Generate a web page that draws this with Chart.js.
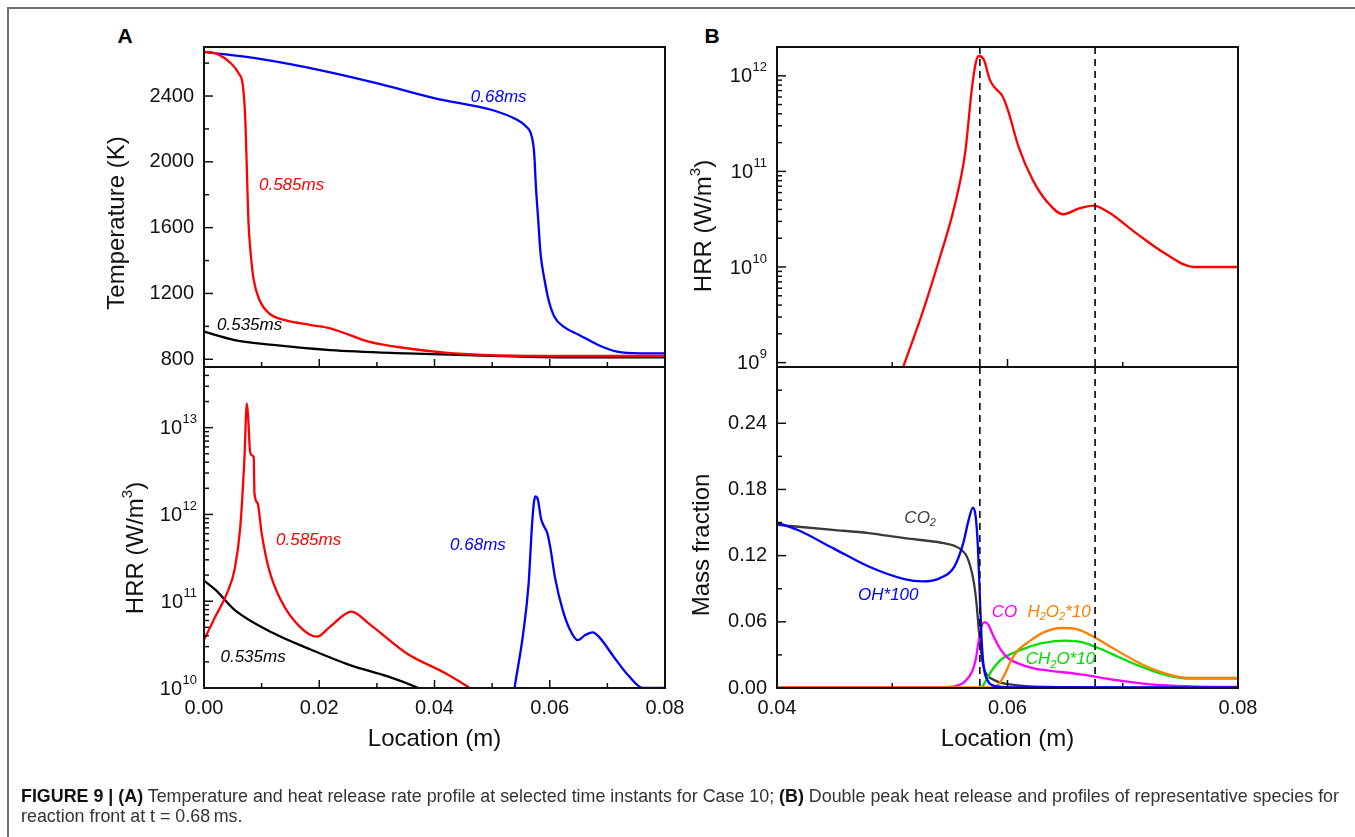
<!DOCTYPE html>
<html>
<head>
<meta charset="utf-8">
<script src="https://cdn.jsdelivr.net/npm/chart.js@4.4.1/dist/chart.umd.min.js"></script>
<style>
html,body{margin:0;padding:0;background:#fff;}
#wrap{position:relative;width:1355px;height:837px;overflow:hidden;background:#fff;}
canvas{position:absolute;left:0;top:0;}
#frame{position:absolute;left:7px;top:7px;width:1400px;height:900px;border-top:2px solid #6e6e6e;border-left:2px solid #6e6e6e;}
.plabel{position:absolute;width:24px;text-align:center;font:bold 21px "Liberation Sans",Arial,sans-serif;color:#000;line-height:24px;}
#caption{position:absolute;left:21px;top:786px;font-family:"Liberation Sans",Arial,sans-serif;font-size:17px;color:#333;white-space:nowrap;line-height:20px;}
#caption b{color:#111;}
</style>
</head>
<body>
<div id="wrap">
  <div id="frame"></div>
  <div class="plabel" style="left:113px;top:24px;">A</div>
  <div class="plabel" style="left:700px;top:24px;">B</div>
  <canvas id="cAT" width="1355" height="837"></canvas>
  <canvas id="cAB" width="1355" height="837"></canvas>
  <canvas id="cBT" width="1355" height="837"></canvas>
  <canvas id="cBB" width="1355" height="837"></canvas>
  <div id="caption"><div id="cap1" style="display:inline-block"><b>FIGURE 9 | (A)</b> Temperature and heat release rate profile at selected time instants for Case 10; <b>(B)</b> Double peak heat release and profiles of representative species for</div><div>reaction front at t = 0.68&#8201;ms.</div></div>
</div>
<script>
// ---------------- DATA ----------------
// axis ticks
const XA_TICKS = [0, 0.02, 0.04, 0.06, 0.08];
const XA_MINOR = [0.01, 0.03, 0.05, 0.07];
const XB_TICKS = [0.04, 0.06, 0.08];
const XB_MINOR = [0.05, 0.07];
const TEMP_TICKS = [800, 1200, 1600, 2000, 2400];
const TEMP_MINOR = [1000, 1400, 1800, 2200, 2600];
const HRR_A_DECADES = [1e10, 1e11, 1e12, 1e13];
const HRR_B_DECADES = [1e9, 1e10, 1e11, 1e12];
const MF_TICKS = [0, 0.06, 0.12, 0.18, 0.24];
const MF_MINOR = [0.03, 0.09, 0.15, 0.21, 0.27];
const DASH_X = [0.0576, 0.0676];

// Panel A top: temperature (K)
const T068_X = [0, 0.0102, 0.0201, 0.0301, 0.0401, 0.05, 0.0544, 0.0558, 0.0568, 0.0573, 0.0576, 0.058, 0.0584, 0.0591, 0.0598, 0.0608, 0.0624, 0.0651, 0.0684, 0.0717, 0.0757, 0.08];
const T068_Y = [2669, 2623, 2558, 2477, 2386, 2315, 2254, 2218, 2163, 2052, 1849, 1646, 1444, 1282, 1160, 1059, 998, 948, 887, 846, 836, 836];
const T0585_X = [0, 0.002, 0.00465, 0.006, 0.00677, 0.00717, 0.00744, 0.0077, 0.0081, 0.00863, 0.00963, 0.01129, 0.01394, 0.01859, 0.0219, 0.02523, 0.02855, 0.03519, 0.04183, 0.04847, 0.05975, 0.08];
const T0585_Y = [2669, 2659, 2599, 2538, 2457, 2254, 1950, 1646, 1444, 1282, 1160, 1079, 1039, 1008, 988, 948, 907, 867, 840, 826, 820, 820];
const T0535_X = [0, 0.00531, 0.01195, 0.0219, 0.0352, 0.0485, 0.0617, 0.08];
const T0535_Y = [968, 917, 887, 856, 836, 822, 812, 812];

// Panel A bottom: HRR (W/m3)
const H0585_X = [0, 0.002, 0.004, 0.0053, 0.0063, 0.007, 0.00744, 0.0077, 0.00797, 0.0083, 0.00863, 0.00876, 0.0093, 0.01, 0.0113, 0.0133, 0.0166, 0.0196, 0.0219, 0.0256, 0.0285, 0.0352, 0.0418, 0.0461, 0.0475];
const H0585_Y = [3.6e10, 6.7e10, 1.24e11, 2.3e11, 7.2e11, 4.2e12, 1.9e13, 1.2e13, 5.5e12, 4.8e12, 4.6e12, 1.75e12, 1.35e12, 6.1e11, 2.3e11, 1.04e11, 5.1e10, 3.9e10, 5.1e10, 7.6e10, 5.6e10, 2.5e10, 1.49e10, 1.0e10, 8.5e9];
const H0535_X = [0, 0.002, 0.0053, 0.012, 0.0186, 0.0252, 0.0319, 0.0372, 0.039];
const H0535_Y = [1.73e11, 1.35e11, 7.96e10, 4.3e10, 2.76e10, 1.85e10, 1.36e10, 1.0e10, 8.8e9];
// HRR at 0.68 ms (panel A bottom blue and panel B top red)
const H068_X = [0.0505, 0.05096, 0.0526, 0.05415, 0.05539, 0.05632, 0.05693, 0.05724, 0.05749, 0.05793, 0.05848, 0.05895, 0.05957, 0.06003, 0.06096, 0.0622, 0.06344, 0.06483, 0.06622, 0.06746, 0.0687, 0.07118, 0.07365, 0.07613, 0.08];
const H068_Y = [6.3e8, 9.06e8, 3.27e9, 1.28e10, 4.27e10, 1.55e11, 7.7e11, 1.35e12, 1.61e12, 1.49e12, 9.0e11, 7.4e11, 6.1e11, 4.4e11, 1.81e11, 8.1e10, 4.8e10, 3.56e10, 4.1e10, 4.38e10, 3.78e10, 2.25e10, 1.39e10, 1.0e10, 1.0e10];

// Panel B bottom: mass fractions
const CO2_X = [0.04, 0.04486, 0.04796, 0.05105, 0.05415, 0.05539, 0.05601, 0.05647, 0.05678, 0.05709, 0.05731, 0.05746, 0.05762, 0.0578, 0.05805, 0.05879, 0.06034, 0.06344, 0.08];
const CO2_Y = [0.1479, 0.1434, 0.1404, 0.1358, 0.1319, 0.1289, 0.1253, 0.1192, 0.1101, 0.0951, 0.077, 0.0589, 0.0408, 0.0256, 0.0151, 0.0075, 0.003, 0.0009, 0.0];
const OH_X = [0.04, 0.04176, 0.04486, 0.04796, 0.05105, 0.0526, 0.05415, 0.05539, 0.05616, 0.05663, 0.057, 0.05724, 0.05743, 0.05759, 0.05774, 0.05793, 0.05824, 0.05879, 0.06034, 0.08];
const OH_Y = [0.150, 0.1434, 0.1268, 0.1101, 0.0987, 0.0966, 0.0996, 0.1101, 0.1313, 0.1524, 0.1636, 0.1554, 0.1282, 0.086, 0.0467, 0.0196, 0.0075, 0.0021, 0.0005, 0.0005];
const CO_X = [0.04, 0.05415, 0.05539, 0.05632, 0.05693, 0.05724, 0.05749, 0.0577, 0.05802, 0.05833, 0.05879, 0.05941, 0.06003, 0.06096, 0.0622, 0.06344, 0.06653, 0.06963, 0.07272, 0.07582, 0.08];
const CO_Y = [0.0005, 0.0005, 0.0015, 0.006, 0.015, 0.0256, 0.0423, 0.0544, 0.0598, 0.0574, 0.0468, 0.0347, 0.0272, 0.0221, 0.0181, 0.016, 0.0121, 0.0069, 0.003, 0.0015, 0.0009];
const H2O2_X = [0.04, 0.05848, 0.05895, 0.05941, 0.05988, 0.06034, 0.06096, 0.06189, 0.06313, 0.06467, 0.06591, 0.06715, 0.06839, 0.06963, 0.07118, 0.07272, 0.07427, 0.07582, 0.08];
const H2O2_Y = [0.0005, 0.0005, 0.0009, 0.006, 0.015, 0.0256, 0.0347, 0.0423, 0.0504, 0.0544, 0.0535, 0.0483, 0.0408, 0.0332, 0.0241, 0.0166, 0.0115, 0.0091, 0.0091];
const CH2O_X = [0.05771, 0.05793, 0.05833, 0.05879, 0.05941, 0.06034, 0.06158, 0.06313, 0.06498, 0.06653, 0.06808, 0.06963, 0.07118, 0.07272, 0.07427, 0.07582, 0.08];
const CH2O_Y = [0, 0.003, 0.0106, 0.0181, 0.0256, 0.031, 0.0362, 0.0408, 0.0429, 0.0414, 0.0353, 0.0281, 0.0211, 0.0151, 0.0106, 0.0085, 0.0085];

// ---------------- DRAWING ----------------
const W = 1355, H = 837;
const FONT = '"Liberation Sans", Arial, Helvetica, sans-serif';
const DECOR = {};

function pts(xs, ys) { return xs.map((x, i) => ({x: x, y: ys[i]})); }
function series(label, xs, ys, color) {
  return {label: label, data: pts(xs, ys), borderColor: color, backgroundColor: color,
          borderWidth: 2.3, pointRadius: 0, fill: false, cubicInterpolationMode: 'monotone'};
}
function logMinors(lo, hi) {
  const out = [];
  for (let e = Math.floor(Math.log10(lo)); e <= Math.ceil(Math.log10(hi)); e++) {
    for (let m = 2; m <= 9; m++) { const v = m * Math.pow(10, e); if (v > lo * 1.0001 && v < hi * 0.9999) out.push(v); }
  }
  return out;
}

function drawRich(ctx, segs, x, y, size, style, color, align) {
  const small = Math.round(size * 0.62);
  let total = 0;
  const widths = segs.map(s => {
    ctx.font = `${style} ${(s.sub || s.sup) ? small : size}px ${FONT}`;
    const w = ctx.measureText(s.t).width; total += w; return w;
  });
  let cx = align === 'center' ? x - total / 2 : x;
  ctx.fillStyle = color; ctx.textAlign = 'left'; ctx.textBaseline = 'middle';
  segs.forEach((s, i) => {
    ctx.font = `${style} ${(s.sub || s.sup) ? small : size}px ${FONT}`;
    const dy = s.sup ? -size * 0.36 : (s.sub ? size * 0.3 : 0);
    ctx.fillText(s.t, cx, y + dy);
    cx += widths[i];
  });
}

const decor = {
  id: 'decor',
  afterDatasetsDraw(chart) {
    const o = DECOR[chart.canvas.id];
    if (!o) return;
    const ctx = chart.ctx, a = chart.chartArea;
    const xs = chart.scales.x, ys = chart.scales.y;
    const seg = (x1, y1, x2, y2) => { ctx.beginPath(); ctx.moveTo(x1, y1); ctx.lineTo(x2, y2); ctx.stroke(); };
    ctx.save();
    ctx.strokeStyle = '#111';
    if (o.dash) {
      ctx.setLineDash([7, 5]); ctx.lineWidth = 1.7;
      o.dash.forEach(v => { const p = xs.getPixelForValue(v); seg(p, a.top, p, a.bottom); });
      ctx.setLineDash([]);
    }
    ctx.lineWidth = 1.5;
    o.xMajor.forEach(v => { const p = xs.getPixelForValue(v); seg(p, a.bottom, p, a.bottom - 8); });
    o.xMinor.forEach(v => { const p = xs.getPixelForValue(v); seg(p, a.bottom, p, a.bottom - 5); });
    o.yMajor.forEach(v => { const p = ys.getPixelForValue(v); seg(a.left, p, a.left + 9, p); });
    o.yMinor.forEach(v => { const p = ys.getPixelForValue(v); seg(a.left, p, a.left + 5, p); });
    ctx.lineWidth = 2;
    ctx.strokeRect(a.left, a.top, a.right - a.left, a.bottom - a.top);
    // log tick labels: 10^n
    if (o.logLabels) {
      o.logLabels.forEach(v => {
        const p = ys.getPixelForValue(v);
        const ex = String(Math.round(Math.log10(v)));
        const right = a.left - o.logRight;
        ctx.fillStyle = '#111'; ctx.textBaseline = 'middle';
        ctx.font = `13px ${FONT}`; const ew = ctx.measureText(ex).width;
        ctx.textAlign = 'left'; ctx.fillText(ex, right - ew, p - 8);
        ctx.font = `20px ${FONT}`; ctx.textAlign = 'right'; ctx.fillText('10', right - ew - 0.5, p + 1);
      });
    }
    // rotated y title
    if (o.title) {
      ctx.save(); ctx.translate(o.title.x, o.title.y); ctx.rotate(-Math.PI / 2);
      drawRich(ctx, o.title.segs, 0, 0, 24, '', '#111', 'center');
      ctx.restore();
    }
    // curve labels
    (o.notes || []).forEach(n => {
      drawRich(ctx, n.segs, xs.getPixelForValue(n.x), ys.getPixelForValue(n.y), 17, 'italic', n.color, 'left');
    });
    ctx.restore();
  }
};

function makePanel(id, o) {
  DECOR[id] = o;
  return new Chart(document.getElementById(id), {
    type: 'line',
    data: {datasets: o.datasets},
    options: {
      responsive: false, animation: false, devicePixelRatio: 1,
      layout: {padding: {left: o.area.l - o.yW, right: W - o.area.r, top: o.area.t, bottom: H - o.area.b - o.xH}},
      plugins: {legend: {display: false}, tooltip: {enabled: false}},
      scales: {
        x: {
          type: 'linear', min: o.xMin, max: o.xMax, bounds: 'data',
          grid: {display: false, drawTicks: false}, border: {display: false},
          ticks: {display: o.xLabels, padding: 8, color: '#111', font: {family: FONT, size: 20}, maxRotation: 0,
                  callback: v => Number(v).toFixed(2)},
          title: {display: !!o.xTitle, text: o.xTitle || '', color: '#111', font: {family: FONT, size: 24}, padding: 0},
          afterBuildTicks: s => { s.ticks = o.xTicks.map(v => ({value: v})); },
          afterFit: s => { s.height = o.xH; s.paddingLeft = 0; s.paddingRight = 0; }
        },
        y: {
          type: o.yType, min: o.yMin, max: o.yMax, bounds: 'data',
          grid: {display: false, drawTicks: false}, border: {display: false},
          ticks: {display: o.yLabels, padding: 10, color: '#111', font: {family: FONT, size: 20},
                  callback: v => o.yFmt(Number(v))},
          afterBuildTicks: s => { s.ticks = o.yTicks.map(v => ({value: v})); },
          afterFit: s => { s.width = o.yW; s.paddingTop = 0; s.paddingBottom = 0; }
        }
      }
    },
    plugins: [decor]
  });
}

const RED = '#ff0000', BLUE = '#0000ff', BLACK = '#000000';

makePanel('cAT', {
  area: {l: 204, r: 665, t: 47, b: 367}, yW: 80, xH: 0,
  xMin: 0, xMax: 0.08, xLabels: false, xTicks: XA_TICKS,
  yType: 'linear', yMin: 753, yMax: 2698, yLabels: true, yTicks: TEMP_TICKS, yFmt: v => String(v),
  xMajor: XA_TICKS.slice(1, -1), xMinor: XA_MINOR, yMajor: TEMP_TICKS, yMinor: TEMP_MINOR,
  title: {segs: [{t: 'Temperature (K)'}], x: 117, y: 223},
  notes: [
    {segs: [{t: '0.68ms'}], x: 0.0463, y: 2395, color: BLUE},
    {segs: [{t: '0.585ms'}], x: 0.00954, y: 1859, color: RED},
    {segs: [{t: '0.535ms'}], x: 0.00226, y: 1008, color: BLACK}
  ],
  datasets: [
    series('0.585ms', T0585_X, T0585_Y, RED),
    series('0.68ms', T068_X, T068_Y, BLUE),
    series('0.535ms', T0535_X, T0535_Y, BLACK)
  ]
});

makePanel('cAB', {
  area: {l: 204, r: 665, t: 367, b: 688}, yW: 80, xH: 66,
  xMin: 0, xMax: 0.08, xLabels: true, xTicks: XA_TICKS, xTitle: 'Location (m)',
  yType: 'logarithmic', yMin: 1e10, yMax: 5e13, yLabels: false, yTicks: HRR_A_DECADES, yFmt: v => String(v),
  xMajor: XA_TICKS.slice(1, -1), xMinor: XA_MINOR, yMajor: HRR_A_DECADES.slice(1), yMinor: logMinors(1e10, 5e13),
  logLabels: HRR_A_DECADES, logRight: 7,
  title: {segs: [{t: 'HRR (W/m'}, {t: '3', sup: true}, {t: ')'}], x: 136, y: 548},
  notes: [
    {segs: [{t: '0.585ms'}], x: 0.0125, y: 5.1e11, color: RED},
    {segs: [{t: '0.68ms'}], x: 0.0427, y: 4.46e11, color: BLUE},
    {segs: [{t: '0.535ms'}], x: 0.00286, y: 2.29e10, color: BLACK}
  ],
  datasets: [
    series('0.585ms', H0585_X, H0585_Y, RED),
    series('0.68ms', H068_X, H068_Y, BLUE),
    series('0.535ms', H0535_X, H0535_Y, BLACK)
  ]
});

makePanel('cBT', {
  area: {l: 777, r: 1238, t: 47, b: 367}, yW: 80, xH: 0,
  xMin: 0.04, xMax: 0.08, xLabels: false, xTicks: XB_TICKS,
  yType: 'logarithmic', yMin: 9e8, yMax: 2e12, yLabels: false, yTicks: HRR_B_DECADES, yFmt: v => String(v),
  xMajor: XB_TICKS.slice(1, -1), xMinor: XB_MINOR, yMajor: HRR_B_DECADES, yMinor: logMinors(9e8, 2e12),
  logLabels: HRR_B_DECADES, logRight: 10, dash: DASH_X,
  title: {segs: [{t: 'HRR (W/m'}, {t: '3', sup: true}, {t: ')'}], x: 704, y: 226},
  notes: [],
  datasets: [series('HRR 0.68ms', H068_X, H068_Y, RED)]
});

makePanel('cBB', {
  area: {l: 777, r: 1238, t: 367, b: 688}, yW: 80, xH: 66,
  xMin: 0.04, xMax: 0.08, xLabels: true, xTicks: XB_TICKS, xTitle: 'Location (m)',
  yType: 'linear', yMin: 0, yMax: 0.291, yLabels: true, yTicks: MF_TICKS, yFmt: v => v.toFixed(2),
  xMajor: XB_TICKS.slice(1, -1), xMinor: XB_MINOR, yMajor: MF_TICKS.slice(1), yMinor: MF_MINOR, dash: DASH_X,
  title: {segs: [{t: 'Mass fraction'}], x: 702, y: 545},
  notes: [
    {segs: [{t: 'CO'}, {t: '2', sub: true}], x: 0.05105, y: 0.154, color: '#404040'},
    {segs: [{t: 'OH*100'}], x: 0.04703, y: 0.0845, color: BLUE},
    {segs: [{t: 'CO'}], x: 0.05864, y: 0.0688, color: '#ff00ff'},
    {segs: [{t: 'H'}, {t: '2', sub: true}, {t: 'O'}, {t: '2', sub: true}, {t: '*10'}], x: 0.06173, y: 0.0688, color: '#ff8000'},
    {segs: [{t: 'CH'}, {t: '2', sub: true}, {t: 'O*10'}], x: 0.06158, y: 0.0256, color: '#00dd00'}
  ],
  datasets: [
    series('OH*100', OH_X, OH_Y, BLUE),
    series('H2O2*10', H2O2_X, H2O2_Y, '#ff8000'),
    series('CO', CO_X, CO_Y, '#ff00ff'),
    series('CH2O*10', CH2O_X, CH2O_Y, '#00e000'),
    series('CO2', CO2_X, CO2_Y, '#3a3a3a')
  ]
});

// fit caption line width to the reference
(function () {
  const cap = document.getElementById('caption');
  const c1 = document.getElementById('cap1');
  const w = c1.getBoundingClientRect().width;
  if (w > 0) cap.style.fontSize = (17 * 1318 / w).toFixed(2) + 'px';
})();
</script>
</body>
</html>
